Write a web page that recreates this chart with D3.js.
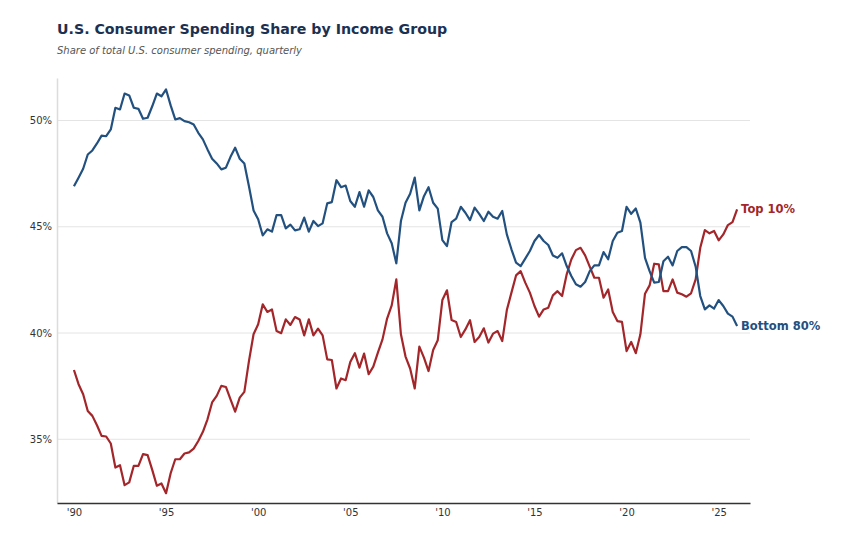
<!DOCTYPE html>
<html>
<head>
<meta charset="utf-8">
<script src="https://cdn.jsdelivr.net/npm/d3@7"></script>
<style>
    body { margin: 0; background: #fff; }
    svg { display: block; font-family: "DejaVu Sans", sans-serif; }
</style>
</head>
<body>
<svg id="chart" width="864" height="559"></svg>
<script>
"use strict";

// data (quarterly, starting 1990 Q1)
const startYear = 1990;

const top10 = [
    38.26, 37.59, 37.12, 36.33, 36.10, 35.66, 35.16, 35.13, 34.80, 33.67,
    33.78, 32.84, 32.97, 33.75, 33.75, 34.30, 34.25, 33.56, 32.81, 32.92,
    32.46, 33.40, 34.06, 34.06, 34.33, 34.38, 34.56, 34.92, 35.35, 35.94,
    36.73, 37.04, 37.51, 37.46, 36.88, 36.30, 36.96, 37.23, 38.68, 39.94,
    40.41, 41.35, 40.99, 41.11, 40.09, 39.99, 40.64, 40.38, 40.75, 40.64,
    39.89, 40.64, 39.89, 40.21, 39.89, 38.76, 38.73, 37.39, 37.86, 37.78,
    38.64, 39.05, 38.37, 39.03, 38.06, 38.42, 39.08, 39.70, 40.68, 41.30,
    42.52, 39.94, 38.89, 38.33, 37.39, 39.36, 38.84, 38.21, 39.20, 39.66,
    41.55, 42.01, 40.61, 40.52, 39.81, 40.17, 40.60, 39.58, 39.81, 40.22,
    39.55, 39.97, 40.09, 39.62, 41.08, 41.90, 42.71, 42.91, 42.37, 41.90,
    41.27, 40.77, 41.11, 41.19, 41.77, 41.97, 41.74, 42.76, 43.46, 43.90,
    44.01, 43.65, 43.12, 42.60, 42.60, 41.66, 42.05, 40.99, 40.56, 40.52,
    39.15, 39.58, 39.05, 39.94, 41.85, 42.24, 43.26, 43.23, 41.97, 41.97,
    42.52, 41.90, 41.82, 41.71, 41.87, 42.52, 44.01, 44.84, 44.69, 44.80,
    44.36, 44.64, 45.08, 45.22, 45.82
];

const bottom80 = [
    46.91, 47.31, 47.73, 48.40, 48.59, 48.92, 49.29, 49.26, 49.58, 50.60,
    50.52, 51.27, 51.18, 50.60, 50.55, 50.08, 50.13, 50.67, 51.27, 51.14,
    51.46, 50.71, 50.05, 50.11, 49.97, 49.92, 49.81, 49.42, 49.11, 48.64,
    48.20, 47.98, 47.70, 47.78, 48.29, 48.72, 48.20, 47.98, 46.91, 45.77,
    45.35, 44.59, 44.88, 44.77, 45.55, 45.55, 44.92, 45.10, 44.83, 44.88,
    45.43, 44.77, 45.27, 45.03, 45.16, 46.10, 46.16, 47.19, 46.86, 46.94,
    46.21, 45.94, 46.63, 45.94, 46.71, 46.40, 45.77, 45.47, 44.69, 44.22,
    43.28, 45.27, 46.13, 46.55, 47.31, 45.77, 46.44, 46.86, 46.13, 45.85,
    44.37, 44.09, 45.22, 45.38, 45.94, 45.66, 45.31, 45.90, 45.61, 45.27,
    45.71, 45.47, 45.38, 45.74, 44.64, 43.94, 43.31, 43.15, 43.50, 43.86,
    44.33, 44.61, 44.33, 44.14, 43.65, 43.54, 43.75, 43.15, 42.68, 42.29,
    42.18, 42.40, 42.91, 43.18, 43.18, 43.81, 43.47, 44.33, 44.72, 44.80,
    45.94, 45.61, 45.86, 45.19, 43.54, 42.91, 42.37, 42.40, 43.38, 43.59,
    43.18, 43.86, 44.04, 44.04, 43.86, 43.12, 41.74, 41.11, 41.30, 41.15,
    41.55, 41.27, 40.91, 40.77, 40.33
];

const quarters = top10.map((d, i) => startYear + i / 4);

const seriesNames = ["Top 10%", "Bottom 80%"];
const yTicks = [35, 40, 45, 50];
const xTicks = [1990, 1995, 2000, 2005, 2010, 2015, 2020, 2025];
const xTickLabels = ["'90", "'95", "'00", "'05", "'10", "'15", "'20", "'25"];



// setting
const setting = {
    width: 864,
    height: 559,
    plot: { left: 57, right: 750, top: 78, bottom: 503 },
    colors: { "Top 10%": "#a3262a", "Bottom 80%": "#22507f" },
    title: "U.S. Consumer Spending Share by Income Group",
    subtitle: "Share of total U.S. consumer spending, quarterly"
};



// scales
let scaleX = d3.scaleLinear()
.domain([1989.08, 2026.7])
.range([setting.plot.left, setting.plot.right]);

let scaleY = d3.scaleLinear()
.domain([32, 52])
.range([setting.plot.bottom, setting.plot.top]);



let chart = d3.select("#chart");



// title + subtitle
chart.append("text")
.attr("x", 57)
.attr("y", 34)
.attr("font-size", 14.2)
.attr("font-weight", "bold")
.attr("fill", "#1b3152")
.text(setting.title);

chart.append("text")
.attr("x", 57)
.attr("y", 53.5)
.attr("font-size", 10)
.attr("font-style", "italic")
.attr("fill", "#555")
.text(setting.subtitle);



// grid lines for y axis
chart.append("g")
.attr("class", "yGrid")
.selectAll("line")
.data(yTicks)
.join("line")
.attr("x1", setting.plot.left)
.attr("x2", setting.plot.right)
.attr("y1", d => scaleY(d))
.attr("y2", d => scaleY(d))
.attr("stroke", "#e4e4e4")
.attr("stroke-width", 1);



// y axis + labels
let yAxis = chart.append("g")
.attr("class", "y_axis")
.attr("transform", `translate(${setting.plot.left}, 0)`)
.call(d3.axisLeft(scaleY).tickValues(yTicks).tickSize(0).tickPadding(5).tickFormat(d => d + "%"));
yAxis.select(".domain")
.attr("stroke", "#dcdcdc")
.attr("stroke-width", 1.5);
yAxis.selectAll("text")
.attr("font-family", "DejaVu Sans")
.attr("font-size", 10)
.attr("fill", "#333");



// x axis
let xAxis = chart.append("g")
.attr("class", "x_axis")
.attr("transform", `translate(0, ${setting.plot.bottom})`)
.call(d3.axisBottom(scaleX).tickValues(xTicks).tickSize(0).tickPadding(6).tickFormat((d, i) => xTickLabels[i]));
xAxis.select(".domain")
.attr("stroke", "#333")
.attr("stroke-width", 1.5);
xAxis.selectAll("text")
.attr("font-family", "DejaVu Sans")
.attr("font-size", 10)
.attr("fill", "#333");



// lines
let line = d3.line()
.x((d, i) => scaleX(quarters[i]))
.y(d => scaleY(d));

let seriesData = { "Top 10%": top10, "Bottom 80%": bottom80 };

seriesNames.forEach(name => {
    chart.append("path")
    .datum(seriesData[name])
    .attr("class", "line")
    .attr("d", line)
    .attr("fill", "none")
    .attr("stroke", setting.colors[name])
    .attr("stroke-width", 2.2)
    .attr("stroke-linejoin", "round");

    // end label
    let last = seriesData[name].length - 1;
    chart.append("text")
    .attr("x", scaleX(quarters[last]) + 4)
    .attr("y", scaleY(seriesData[name][last]))
    .attr("dy", "0.35em")
    .attr("font-size", 11.5)
    .attr("font-weight", "bold")
    .attr("fill", setting.colors[name])
    .text(name);
});
</script>
</body>
</html>
